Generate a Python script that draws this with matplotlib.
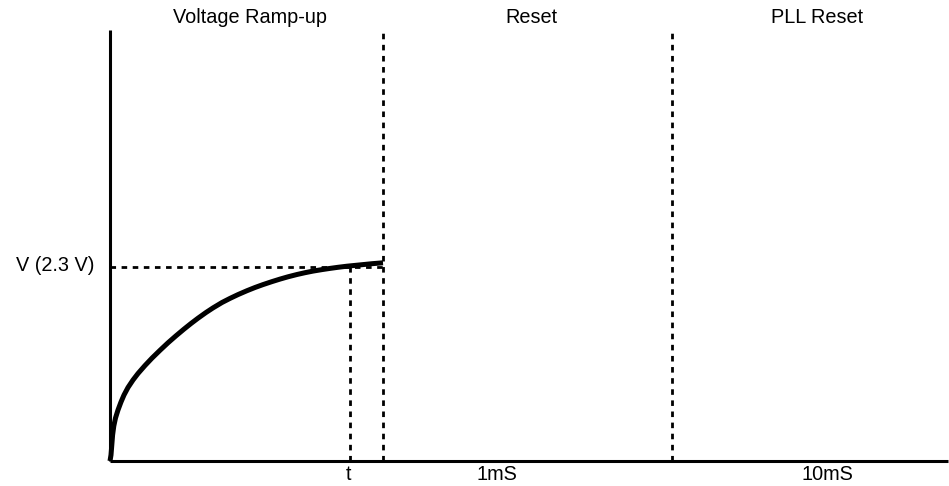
import matplotlib
matplotlib.use("Agg")
import matplotlib.pyplot as plt

plt.rcParams['font.family'] = ['Liberation Sans', 'DejaVu Sans']

# Data (arbitrary units: time on x, voltage on y)
curve_t = [0, 1, 1.8, 2.6, 3.8, 5.5, 8, 11, 14, 18, 23, 28, 35, 42, 50, 58, 66, 74, 81, 88,
           96, 103, 112, 120, 128, 137, 145, 153, 162, 170, 178, 187, 195, 203, 212, 220,
           228, 237, 245, 253, 262, 273]
curve_v = [0, 6, 16, 26, 35, 43, 51, 59, 66, 73.5, 81, 87.5, 95.5, 102.9, 110.7, 118.2, 125.2, 131.9,
           137.5, 142.8, 148.5, 153.1, 158.5, 162.6, 166.4, 170.3, 173.5, 176.4, 179.4, 181.9,
           184.2, 186.5, 188.3, 189.9, 191.4, 192.6, 193.7, 194.8, 195.6, 196.4, 197.3, 198.2]
v_level = 194
t_mark = 240
phase_bounds = [273, 562]
x_max = 838
y_max = 431
phase_labels = ["Voltage Ramp-up", "Reset", "PLL Reset"]
phase_label_x = [140, 421, 707]
bottom_labels = ["t", "1mS", "10mS"]
bottom_label_x = [238, 387, 717]
v_label = "V (2.3 V)"

W, H = 949, 486
fig = plt.figure(figsize=(W / 100, H / 100), dpi=100)
ax = fig.add_axes([110 / W, 25 / H, x_max / W, y_max / H])
ax.set_xlim(0, x_max)
ax.set_ylim(0, y_max)
ax.axis('off')

dots = (0, (2.0, 2.0))
# axes lines
ax.plot([0, 0], [0, y_max], color='black', lw=2.2, solid_capstyle='butt', clip_on=False)
ax.plot([0, x_max], [0, 0], color='black', lw=2.2, solid_capstyle='butt', clip_on=False)

# dotted guides
ax.plot([0, phase_bounds[0]], [v_level, v_level], color='black', lw=2.0, linestyle=dots)
ax.plot([t_mark, t_mark], [0, v_level], color='black', lw=2.0, linestyle=dots)
for xb in phase_bounds:
    ax.plot([xb, xb], [0, y_max], color='black', lw=2.0, linestyle=dots, clip_on=False)

# ramp curve
ax.plot(curve_t, curve_v, color='black', lw=3.6, solid_capstyle='butt',
        solid_joinstyle='round', clip_on=False)

fs = 14.3
for lab, xl in zip(phase_labels, phase_label_x):
    ax.text(xl, y_max + 13, lab, ha='center', va='center', fontsize=fs)
for lab, xl in zip(bottom_labels, bottom_label_x):
    ax.text(xl, -13, lab, ha='center', va='center', fontsize=fs)
ax.text(-15, v_level + 2, v_label, ha='right', va='center', fontsize=fs)

fig.savefig("out.png", dpi=100)
